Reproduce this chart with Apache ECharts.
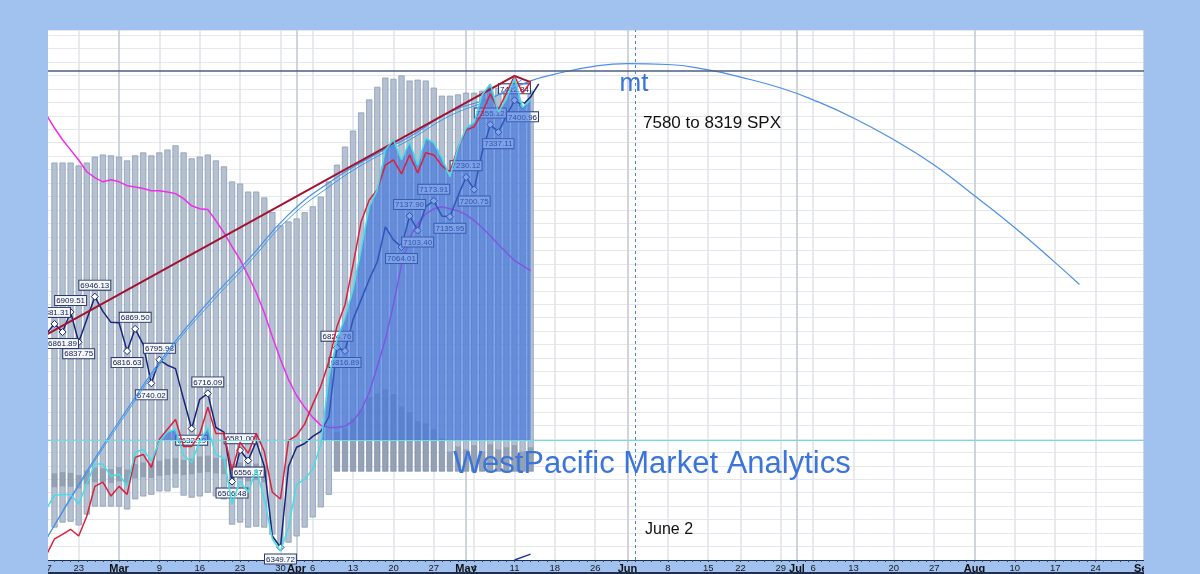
<!DOCTYPE html>
<html>
<head>
<meta charset="utf-8">
<title>WestPacific Market Analytics</title>
<script src="https://cdn.jsdelivr.net/npm/echarts@6/dist/echarts.min.js"></script>
<style>
  html, body { margin: 0; padding: 0; background: #a1c1ee; }
  #chart { width: 1200px; height: 574px; }
</style>
</head>
<body>
<div id="chart"></div>
<script>
// market holidays inside the window (no slots on the axis)
var holidays = ['2026-04-03', '2026-05-25', '2026-06-19', '2026-07-03'];
var monthNames = ['Jan', 'Feb', 'Mar', 'Apr', 'May', 'Jun', 'Jul', 'Aug', 'Sep', 'Oct', 'Nov', 'Dec'];

// levels
var axisMin = 6320;
var axisMax = 7580;
var ceilingLevel = 7483;
var baselineLevel = 6604;
var forecastDate = '2026-06-02';

// index close, one value per trading day from Feb 17
var closeLine = [6858, 6881.31, 6861.89, 6909.51, 6837.75, 6892, 6946.13, 6911, 6885, 6884,
  6816.63, 6869.50, 6832, 6740.02, 6795.98, 6783, 6775, 6702, 6632.19, 6702,
  6716.09, 6635, 6624, 6506.48, 6581.00, 6556.37, 6602, 6543, 6377, 6349.72,
  6543, 6588, 6597, 6614, 6626, 6660, 6824.76, 6816.89, 6892, 6939,
  6987, 7029, 7112, 7081, 7064.01, 7137.90, 7103.40, 7160, 7173.91, 7138,
  7135.95, 7186, 7230.12, 7200.75, 7290, 7355.12, 7337.11, 7376, 7412.84, 7400.96,
  7421, 7452];
var labeledDays = ['2026-02-18', '2026-02-19', '2026-02-20', '2026-02-23', '2026-02-25',
  '2026-03-03', '2026-03-04', '2026-03-06', '2026-03-09', '2026-03-13', '2026-03-17',
  '2026-03-20', '2026-03-23', '2026-03-24', '2026-03-30', '2026-04-09', '2026-04-10',
  '2026-04-21', '2026-04-22', '2026-04-23', '2026-04-27', '2026-04-29', '2026-05-01',
  '2026-05-04', '2026-05-06', '2026-05-07', '2026-05-11', '2026-05-12'];

var redLine = [6332, 6370, 6381, 6393, 6377, 6424, 6495, 6505, 6472, 6495,
  6476, 6564, 6571, 6540, 6607, 6631, 6654, 6590, 6590, 6619,
  6683, 6621, 6621, 6533, 6600, 6574, 6621, 6578, 6481, 6465,
  6604, 6616, 6643, 6690, 6733, 6792, 6875, 6927, 7022, 7124,
  7176, 7200, 7259, 7271, 7238, 7283, 7240, 7288, 7283, 7257,
  7243, 7300, 7342, 7350, 7383, 7428, 7390, 7430, 7471, 7430,
  7456];

var cyanLine = [6441, 6474, 6476, 6476, 6453, 6500, 6548, 6548, 6519, 6524,
  6495, 6576, 6583, 6555, 6602, 6624, 6631, 6569, 6552, 6602,
  6635, 6571, 6562, 6453, 6507, 6481, 6536, 6465, 6370, 6341,
  6398, 6500, 6512, 6536, 6595, 6754, 6844, 6896, 6963, 7058,
  7160, 7200, 7295, 7319, 7271, 7314, 7259, 7323, 7312, 7276,
  7231, 7300, 7347, 7361, 7426, 7452, 7385, 7416, 7466, 7395,
  7414];

var magentaLine = [7378, 7347, 7319, 7295, 7271, 7243, 7229, 7219, 7224, 7219,
  7210, 7207, 7203, 7198, 7198, 7195, 7191, 7179, 7162, 7155,
  7153, 7127, 7098, 7065, 7034, 6996, 6956, 6908, 6851, 6797,
  6749, 6711, 6683, 6659, 6640, 6635, 6635, 6638, 6650, 6676,
  6718, 6780, 6844, 6927, 7022, 7086, 7119, 7143, 7155, 7160,
  7155, 7150, 7141, 7127, 7110, 7091, 7070, 7051, 7032, 7020,
  7008];

// grey range bars
var barHigh = [null, 7264, 7264, 7264, 7257, 7264, 7278, 7283, 7281, 7278,
  7269, 7281, 7288, 7281, 7288, 7295, 7305, 7288, 7274, 7278,
  7283, 7269, 7255, 7219, 7214, 7195, 7195, 7181, 7146, 7115,
  7124, 7131, 7146, 7160, 7183, 7219, 7259, 7302, 7340, 7383,
  7414, 7444, 7466, 7463, 7471, 7459, 7461, 7459, 7442, 7423,
  7423, 7426, 7430, 7430, 7435, 7444, 7442, 7433, 7444, 7407,
  7435];
var barLow = [null, 6398, 6410, 6412, 6403, 6429, 6448, 6448, 6448, 6448,
  6441, 6465, 6472, 6476, 6484, 6484, 6493, 6474, 6469, 6472,
  6481, 6472, 6465, 6405, 6410, 6398, 6400, 6398, 6381, 6358,
  6362, 6377, 6398, 6422, 6446, 6476, 6531, 6531, 6531, 6531,
  6531, 6531, 6531, 6531, 6531, 6531, 6531, 6531, 6531, 6531,
  6531, 6531, 6531, 6531, 6531, 6531, 6531, 6531, 6531, 6531,
  6531];

// darker inner bars
var volHigh = [null, 6526, 6529, 6527, 6522, 6533, 6540, 6538, 6536, 6541,
  6535, 6548, 6552, 6550, 6556, 6560, 6562, 6558, 6561, 6566,
  6568, 6563, 6560, 6548, 6552, 6545, 6549, 6543, null, null,
  null, null, null, null, null, null, 6624, 6633, 6657, 6678,
  6707, 6716, 6726, 6714, 6685, 6671, 6650, 6645, 6631, 6609,
  6578, 6590, 6583, 6593, 6578, 6595, 6583, 6588, 6593, 6578,
  6588];
var volLow = [null, 6493, 6495, 6494, 6490, 6500, 6505, 6506, 6503, 6507,
  6502, 6514, 6517, 6515, 6520, 6522, 6525, 6522, 6524, 6527,
  6529, 6526, 6524, 6510, 6512, 6507, 6510, 6505, null, null,
  null, null, null, null, null, null, 6531, 6531, 6531, 6531,
  6531, 6531, 6531, 6531, 6531, 6531, 6531, 6531, 6531, 6531,
  6531, 6531, 6531, 6531, 6531, 6531, 6531, 6531, 6531, 6531,
  6531];

// projection arc and its companion curve, read at sample days
var arcPoints = [['2026-02-17', 6370], ['2026-02-24', 6531], ['2026-03-03', 6678], ['2026-03-10', 6816],
  ['2026-03-17', 6932], ['2026-03-24', 7034], ['2026-03-31', 7141], ['2026-04-08', 7217],
  ['2026-04-15', 7276], ['2026-04-22', 7326], ['2026-04-29', 7385], ['2026-05-06', 7418],
  ['2026-05-13', 7459], ['2026-05-18', 7475], ['2026-05-26', 7494], ['2026-06-01', 7500],
  ['2026-06-08', 7498], ['2026-06-15', 7485], ['2026-06-22', 7468], ['2026-06-29', 7442],
  ['2026-07-06', 7414], ['2026-07-13', 7371], ['2026-07-20', 7319], ['2026-07-27', 7259],
  ['2026-08-03', 7186], ['2026-08-10', 7110], ['2026-08-17', 7027], ['2026-08-20', 6975]];
var curvePoints = [['2026-02-17', 6370], ['2026-02-24', 6526], ['2026-03-03', 6671], ['2026-03-10', 6809],
  ['2026-03-17', 6923], ['2026-03-24', 7025], ['2026-03-31', 7131], ['2026-04-08', 7207],
  ['2026-04-15', 7269], ['2026-04-22', 7319], ['2026-04-29', 7376], ['2026-05-06', 7416],
  ['2026-05-12', 7463]];
var trendPoints = [['2026-02-17', 6856], ['2026-05-11', 7471], ['2026-05-13', 7456]];
var tailPoints = [['2026-05-11', 6320], ['2026-05-13', 6334]];

// trading-day axis
var dates = [];
(function () {
  var d = new Date(Date.UTC(2026, 1, 17));
  var end = Date.UTC(2026, 8, 1);
  while (d.getTime() <= end) {
    var wd = d.getUTCDay();
    var iso = d.toISOString().slice(0, 10);
    if (wd !== 0 && wd !== 6 && holidays.indexOf(iso) < 0) dates.push(iso);
    d.setUTCDate(d.getUTCDate() + 1);
  }
})();
function dow(s) { return new Date(s + 'T00:00:00Z').getUTCDay(); }
var monthStart = dates.map(function (s, i) { return i > 0 && s.slice(5, 7) !== dates[i - 1].slice(5, 7); });
var weekStart = dates.map(function (s, i) { return i === 0 || dow(s) < dow(dates[i - 1]); });
var showTick = dates.map(function (s, i) { return monthStart[i] || (weekStart[i] && !monthStart[i + 1]); });

function rows(lo, hi) {
  var out = [];
  for (var i = 0; i < lo.length; i++) {
    if (lo[i] != null && hi[i] != null) out.push([dates[i], lo[i], hi[i]]);
  }
  return out;
}
function rangeBar(fill, stroke) {
  return function (params, api) {
    var lo = api.coord([api.value(0), api.value(1)]);
    var hi = api.coord([api.value(0), api.value(2)]);
    var w = 5.4;
    return {
      type: 'rect',
      shape: { x: hi[0] - w / 2, y: hi[1], width: w, height: lo[1] - hi[1] },
      style: { fill: fill, stroke: stroke || null, lineWidth: stroke ? 0.8 : 0 }
    };
  };
}

var closeData = closeLine.map(function (v, i) {
  var on = labeledDays.indexOf(dates[i]) >= 0;
  if (!on) return { value: v, symbol: 'none' };
  var prev = closeLine[i - 1], next = closeLine[i + 1];
  var high = (prev == null || v >= prev) && (next == null || v >= next);
  return { value: v, symbol: 'diamond', label: { show: true, position: high ? 'top' : 'bottom' } };
});

var frame = '#a1c1ee';
var gridTop = 30, gridBottom = 13;
// fill is blue above the baseline only: a global gradient with a hard stop at the baseline
var cut = (axisMax - baselineLevel) / (axisMax - axisMin);
var fillColor = new echarts.graphic.LinearGradient(0, gridTop, 0, 574 - gridBottom, [
  { offset: 0, color: 'rgba(58,112,220,0.64)' },
  { offset: cut, color: 'rgba(58,112,220,0.64)' },
  { offset: cut, color: 'rgba(58,112,220,0)' },
  { offset: 1, color: 'rgba(58,112,220,0)' }
], true);

var chart = echarts.init(document.getElementById('chart'));
var option = {
  animation: false,
  backgroundColor: frame,
  grid: { left: 46.4, right: 56, top: gridTop, bottom: gridBottom, show: true, backgroundColor: '#ffffff', borderWidth: 0 },
  xAxis: [{
    type: 'category',
    data: dates,
    boundaryGap: false,
    axisLine: { lineStyle: { color: '#1f2d4d', width: 1 } },
    axisTick: { show: true, interval: 0, length: 2, lineStyle: { color: '#33415e' } },
    axisLabel: {
      interval: function (i) { return showTick[i]; },
      margin: 3,
      formatter: function (val) {
        var idx = dates.indexOf(val);
        if (monthStart[idx]) return '{m|' + monthNames[+val.slice(5, 7) - 1] + '}';
        return '{d|' + (+val.slice(8, 10)) + '}';
      },
      rich: {
        m: { fontFamily: 'Arial', fontSize: 11, fontWeight: 'bold', color: '#111' },
        d: { fontFamily: 'Arial', fontSize: 9.5, color: '#1a1a1a' }
      }
    },
    splitLine: { show: true, interval: function (i) { return showTick[i]; }, lineStyle: { color: '#e0e3e8', width: 1.5 } }
  }, {
    type: 'category',
    data: dates,
    boundaryGap: false,
    position: 'bottom',
    axisLine: { show: false },
    axisTick: { show: false },
    axisLabel: { show: false },
    splitLine: { show: true, interval: function (i) { return monthStart[i]; }, lineStyle: { color: '#c8ccd4', width: 1.5 } }
  }],
  yAxis: [{
    type: 'value', min: axisMin, max: axisMax,
    axisLine: { show: false }, axisTick: { show: false }, axisLabel: { show: false }, splitLine: { show: false }
  }, {
    type: 'value', min: 0, max: 1260, interval: 32,
    axisLine: { show: false }, axisTick: { show: false }, axisLabel: { show: false },
    splitLine: { show: true, lineStyle: { color: '#e4e7ec', width: 1 } }
  }],
  series: [{
    type: 'custom', name: 'range', z: 1,
    renderItem: rangeBar('rgba(172,186,206,0.9)', '#8f9db4'),
    encode: { x: 0, y: [1, 2] },
    data: rows(barLow, barHigh)
  }, {
    type: 'custom', name: 'inner', z: 1,
    renderItem: rangeBar('rgba(100,114,140,0.4)', null),
    encode: { x: 0, y: [1, 2] },
    data: rows(volLow, volHigh)
  }, {
    type: 'line', name: 'magenta', z: 2, data: magentaLine, symbol: 'none',
    lineStyle: { color: '#ee2ee8', width: 1.5 }
  }, {
    type: 'line', name: 'close', z: 2, data: closeData,
    showSymbol: true, showAllSymbol: true, symbol: 'none', symbolSize: 7,
    itemStyle: { color: '#ffffff', borderColor: '#1c2b6b', borderWidth: 1 },
    lineStyle: { color: '#18267a', width: 1.5 },
    label: {
      distance: 3,
      formatter: function (p) { return Number(p.value).toFixed(2); },
      fontFamily: 'Arial', fontSize: 8, color: '#101c48',
      backgroundColor: '#f6f7fb', borderColor: '#2a3a6a', borderWidth: 1, padding: [1, 1, 0, 1]
    }
  }, {
    type: 'line', name: 'fill', z: 3, data: cyanLine, symbol: 'none',
    lineStyle: { width: 0, opacity: 0 },
    areaStyle: { origin: 'start', color: fillColor, opacity: 1 }
  }, {
    type: 'line', name: 'curve', z: 4, data: curvePoints, smooth: true, symbol: 'none',
    lineStyle: { color: '#3d9aea', width: 1 }
  }, {
    type: 'line', name: 'arc', z: 4, data: arcPoints, smooth: true, symbol: 'none',
    lineStyle: { color: '#4d8fe6', width: 1.2 }
  }, {
    type: 'line', name: 'trend', z: 4, data: trendPoints, symbol: 'none',
    lineStyle: { color: '#a3122f', width: 2 },
    markLine: {
      symbol: 'none', silent: true, label: { show: false },
      data: [
        { yAxis: ceilingLevel, lineStyle: { color: '#4c5f80', width: 1.5, type: 'solid' } },
        { yAxis: baselineLevel, lineStyle: { color: '#6fdde6', width: 1, type: 'solid' } },
        { xAxis: forecastDate, lineStyle: { color: '#4d7fe0', width: 1, type: [3, 3] } }
      ]
    }
  }, {
    type: 'line', name: 'red', z: 4, data: redLine, symbol: 'none',
    lineStyle: { color: '#d9203c', width: 1.5 }
  }, {
    type: 'line', name: 'cyan', z: 5, data: cyanLine, symbol: 'none',
    lineStyle: { color: '#46dde6', width: 1.5 }
  }, {
    type: 'line', name: 'tail', z: 5, data: tailPoints, symbol: 'none',
    lineStyle: { color: '#1d3a9a', width: 1.5 }
  }],
  graphic: [
    { type: 'rect', z: 100, shape: { x: 0, y: 0, width: 48, height: 574 }, style: { fill: frame } },
    { type: 'rect', z: 100, shape: { x: 1144, y: 0, width: 56, height: 574 }, style: { fill: frame } },
    { type: 'rect', z: 100, shape: { x: 48, y: 572, width: 1096, height: 2 }, style: { fill: '#1f2e4f' } },
    { type: 'text', z: 50, x: 634, y: 84, style: { text: 'mt', fill: '#3a74d8', font: '26px Arial', align: 'center', verticalAlign: 'middle' } },
    { type: 'text', z: 50, x: 643, y: 123, style: { text: '7580 to 8319 SPX', fill: '#111', font: '17px Arial', align: 'left', verticalAlign: 'middle' } },
    { type: 'text', z: 50, x: 652, y: 464, style: { text: 'WestPacific Market Analytics', fill: '#3b74da', font: '31px Arial', align: 'center', verticalAlign: 'middle' } },
    { type: 'text', z: 50, x: 645, y: 530, style: { text: 'June 2', fill: '#111', font: '16px Arial', align: 'left', verticalAlign: 'middle' } }
  ]
};
chart.setOption(option);
</script>
</body>
</html>
